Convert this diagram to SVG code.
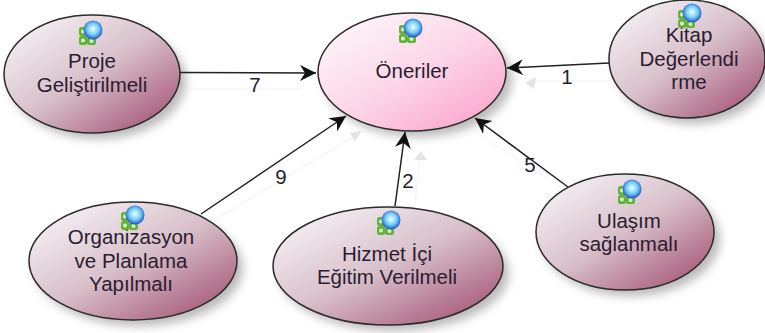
<svg xmlns="http://www.w3.org/2000/svg" xmlns:xlink="http://www.w3.org/1999/xlink" width="765" height="333" viewBox="0 0 765 333">
<style>
text{font-family:"Liberation Sans",Arial,sans-serif;font-size:20.500px;fill:#2a1c30;text-anchor:middle}
.n{stroke:#2b2b2b;stroke-width:1.500;fill:url(#mauve)}
.p{fill:url(#pink)}
.s{fill:#777;filter:url(#blur);opacity:.5}
.c{fill:none;stroke:#222;stroke-width:1.500;marker-end:url(#ah)}
.g{fill:none;stroke:#e8e8e8;stroke-width:1;opacity:.6}
.gh{fill:#e4e4e4}
</style>
<defs>
<linearGradient id="mauve" x1="0.12" y1="0.1" x2="0.88" y2="0.9"><stop offset="0" stop-color="#f3eef1"/><stop offset="0.5" stop-color="#d8bfca"/><stop offset="1" stop-color="#a95f7e"/></linearGradient>
<linearGradient id="pink" x1="0.12" y1="0.1" x2="0.88" y2="0.9"><stop offset="0" stop-color="#fdf4f9"/><stop offset="0.55" stop-color="#fcd3e6"/><stop offset="1" stop-color="#fba8cf"/></linearGradient>
<radialGradient id="ball" cx="0.5" cy="0.45" r="0.55"><stop offset="0" stop-color="#eaffff"/><stop offset="0.55" stop-color="#74cdf7"/><stop offset="1" stop-color="#1d4fc4"/></radialGradient>
<filter id="blur" x="-20%" y="-20%" width="140%" height="140%"><feGaussianBlur stdDeviation="5"/></filter>
<marker id="ah" markerUnits="userSpaceOnUse" markerWidth="20" markerHeight="18" refX="16" refY="8" orient="auto"><path d="M0 0L16 8L0 16L5 8Z" fill="#111"/></marker>
<g id="icon">
<rect x="-14" y="-3" width="8" height="9" rx="2.500" fill="#62b23a"/><rect x="-14" y="6" width="8" height="9" rx="2.500" fill="#62b23a"/><rect x="-6" y="7" width="9" height="8" rx="2.500" fill="#62b23a"/>
<circle cx="-10" cy="1.500" r="2" fill="#d8f5c0"/><circle cx="-10" cy="10.500" r="2" fill="#d8f5c0"/><circle cx="-1.500" cy="11" r="2" fill="#d8f5c0"/>
<circle cx="0" cy="0" r="9.500" fill="url(#ball)"/>
</g>
</defs>
<g id="shadows">
<ellipse class="s" cx="98" cy="81" rx="88" ry="58"/><ellipse class="s" cx="418" cy="79" rx="94" ry="58"/><ellipse class="s" cx="693" cy="66" rx="78" ry="58"/><ellipse class="s" cx="139" cy="268" rx="104" ry="58"/><ellipse class="s" cx="394" cy="273" rx="115" ry="58"/><ellipse class="s" cx="631" cy="239" rx="89" ry="57"/>
</g>
<g id="connectors">
<path class="g" d="M184 89H300M214 220L360 133M414 214L420 155M574 196L480 135M609 81H530"/>
<path class="gh" d="M362 131L350 133L355 141ZM421 151L414 160L427 160ZM525 83L536 77L534 89Z"/>
<path class="c" d="M180 72.500L316 73"/>
<path class="c" d="M609 63L507 68"/>
<path class="c" d="M201 214L346 116"/>
<path class="c" d="M395 206L405 132"/>
<path class="c" d="M568 187L475 118"/>
<text x="255" y="92">7</text><text x="567" y="84">1</text><text x="281" y="184">9</text><text x="408" y="188">2</text><text x="530" y="172">5</text>
</g>
<g id="n-oneriler"><ellipse class="n p" cx="412" cy="72" rx="94" ry="59"/><use xlink:href="#icon" href="#icon" x="413" y="28"/><text x="412" y="78">Öneriler</text></g>
<g id="n-proje"><ellipse class="n" cx="92" cy="74" rx="88" ry="59"/><use xlink:href="#icon" href="#icon" x="93" y="30"/><text x="92" y="68">Proje</text><text x="92" y="92">Geliştirilmeli</text></g>
<g id="n-kitap"><ellipse class="n" cx="687" cy="59" rx="78" ry="59"/><text x="689" y="42">Kitap</text><text x="689" y="66">Değerlendi</text><text x="689" y="89">rme</text><use xlink:href="#icon" href="#icon" x="692" y="13"/></g>
<g id="n-org"><ellipse class="n" cx="133" cy="261" rx="104" ry="59"/><text x="131" y="244">Organizasyon</text><text x="131" y="268">ve Planlama</text><text x="131" y="291">Yapılmalı</text><use xlink:href="#icon" href="#icon" x="135" y="215"/></g>
<g id="n-hizmet"><ellipse class="n" cx="388" cy="266" rx="115" ry="59"/><use xlink:href="#icon" href="#icon" x="391" y="220"/><text x="387" y="261">Hizmet İçi</text><text x="387" y="284">Eğitim Verilmeli</text></g>
<g id="n-ulasim"><ellipse class="n" cx="625" cy="232" rx="89" ry="58"/><use xlink:href="#icon" href="#icon" x="632" y="189"/><text x="629" y="228">Ulaşım</text><text x="629" y="251">sağlanmalı</text></g>
</svg>
